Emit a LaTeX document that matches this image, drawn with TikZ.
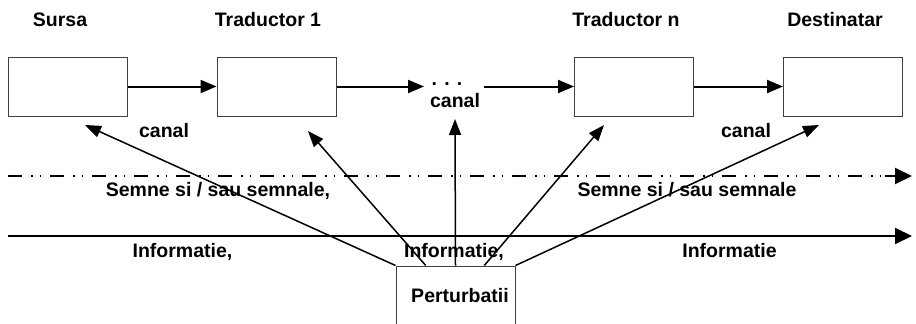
\documentclass[tikz,border=0pt]{standalone}
\usepackage{fontspec}
\setmainfont{Liberation Sans}
\usetikzlibrary{arrows.meta,calc}
\begin{document}
\begin{tikzpicture}[x=1pt,y=-1pt,
  every node/.style={font=\fontsize{19.5}{22}\selectfont\bfseries},
  block/.style={draw=black!75,line width=1pt,fill=white,minimum width=119pt,minimum height=59pt,inner sep=0pt},
  lbl/.style={anchor=base,inner sep=0pt},
  flow/.style={line width=2pt,-{Triangle[length=16pt,width=13pt]}},
  noise/.style={line width=1.5pt,-{Triangle[length=16pt,width=12pt]}},
  semdash/.style={line width=2pt,dash pattern=on 14pt off 9pt on 1.5pt off 7pt on 1.5pt off 9pt}]
\useasboundingbox (0,0) rectangle (916,324);
\clip (0,0) rectangle (916,324);

% chain of blocks
\node[block] (b1) at (67.5,86.5) {};
\node[block] (b2) at (276.5,86.5) {};
\node[block] (b3) at (634,86.5) {};
\node[block] (b4) at (843,86.5) {};

% titles
\node[lbl] (t1) at (60,26) {Sursa};
\node[lbl] (t2) at (268,26) {Traductor 1};
\node[lbl] (t3) at (626,26) {Traductor n};
\node[lbl] (t4) at (835,26) {Destinatar};

% channel labels
\node[lbl] (c1) at (164,137) {canal};
\node[lbl] (c2) at (455,107) {canal};
\node[lbl] (c3) at (746,137) {canal};
\node[lbl] (dots) at (447,85) {. . .};

% arrows along the chain
\coordinate (m1) at (424,86.5);
\coordinate (m2) at (484,86.5);
\draw[flow] (b1.east) -- (b2.west);
\draw[flow] (b2.east) -- (m1);
\draw[flow] (m2) -- (b3.west);
\draw[flow] (b3.east) -- (b4.west);

% levels: signs / signals and information
\coordinate (s0) at (8,176);
\coordinate (s1) at (912,176);
\coordinate (i0) at (8,236);
\coordinate (i1) at (912,236);
\draw[semdash] (s0) -- (895,176);
\draw[line width=2pt,-{Triangle[length=17pt,width=16pt]}] (885,176) -- (s1);
\draw[line width=2pt,-{Triangle[length=17pt,width=16pt]}] (i0) -- (i1);

\node[lbl] (sem1) at (218,196) {Semne si / sau semnale,};
\node[lbl] (sem2) at (687,196) {Semne si / sau semnale};
\node[lbl] (inf1) at (182.5,257) {Informatie,};
\node[lbl] (inf3) at (729.5,257) {Informatie};

% disturbance source
\node[draw=black!75,line width=1pt,fill=white,minimum width=119pt,minimum height=74pt,inner sep=0pt] (p) at (455.5,303) {};
\node[lbl] (pt) at (460,302) {Perturbatii};
\node[lbl] (inf2) at (454,257) {Informatie,};

\coordinate (e1) at (85,125);
\coordinate (e2) at (308,131);
\coordinate (e3) at (455,119);
\coordinate (e4) at (604,125);
\coordinate (e5) at (819,125);
\draw[noise] (p.north west) -- (e1);
\draw[noise] ($(p.north west)!0.252!(p.north east)$) -- (e2);
\draw[noise] (p.north) -- (e3);
\draw[noise] ($(p.north west)!0.74!(p.north east)$) -- (e4);
\draw[noise] (p.north east) -- (e5);
\end{tikzpicture}
\end{document}
